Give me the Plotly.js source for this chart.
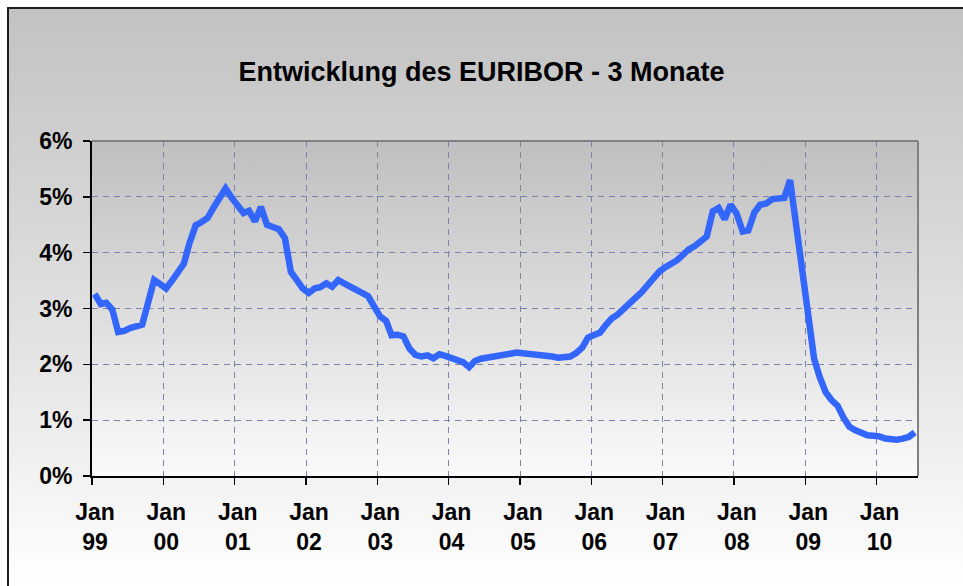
<!DOCTYPE html>
<html>
<head>
<meta charset="utf-8">
<script src="https://cdn.plot.ly/plotly-3.0.1.min.js"></script>
<style>
  html, body { margin: 0; padding: 0; background: #ffffff; overflow: hidden; }
  #frame { position: absolute; left: 7px; top: 7px; width: 1000px; height: 640px;
           border-left: 2px solid #1e1e1e; border-top: 2px solid #1e1e1e;
           background: linear-gradient(to bottom, #c2c2c2 0px, #e2e2e2 330px, #ffffff 580px); }
  #pbg { position: absolute; left: 92px; top: 141px; width: 826px; height: 335px;
         background: linear-gradient(to bottom, #bfbfbf, #fafafa); }
  #chart { position: absolute; left: 0; top: 0; width: 963px; height: 586px; }
</style>
</head>
<body>
<div id="frame"></div>
<div id="pbg"></div>
<div id="chart"></div>
<script>
// Monthly 3-month EURIBOR (%) from Jan 1999 to Jul 2010
const startYear = 1999;
const rate1999 = [3.26, 3.08, 3.10, 2.98, 2.58, 2.60, 2.65, 2.69, 2.71, 3.10, 3.51, 3.44];
const rate2000 = [3.36, 3.50, 3.63, 3.80, 4.18, 4.49, 4.55, 4.62, 4.81, 4.99, 5.15, 4.99];
const rate2001 = [4.85, 4.71, 4.75, 4.56, 4.82, 4.50, 4.46, 4.42, 4.26, 3.66, 3.51, 3.36];
const rate2002 = [3.28, 3.36, 3.38, 3.45, 3.39, 3.51, 3.45, 3.40, 3.36, 3.28, 3.22, 3.02];
const rate2003 = [2.86, 2.78, 2.52, 2.53, 2.50, 2.28, 2.17, 2.14, 2.16, 2.11, 2.18, 2.15];
const rate2004 = [2.12, 2.08, 2.04, 1.95, 2.06, 2.10, 2.12, 2.14, 2.16, 2.17, 2.19, 2.21];
const rate2005 = [2.20, 2.19, 2.18, 2.18, 2.16, 2.14, 2.12, 2.13, 2.14, 2.20, 2.30, 2.48];
const rate2006 = [2.51, 2.57, 2.70, 2.82, 2.89, 2.98, 3.08, 3.19, 3.29, 3.42, 3.56, 3.66];
const rate2007 = [3.74, 3.80, 3.86, 3.96, 4.06, 4.12, 4.20, 4.29, 4.74, 4.80, 4.60, 4.86];
const rate2008 = [4.70, 4.38, 4.40, 4.72, 4.86, 4.88, 4.96, 4.97, 4.98, 5.30, 4.50, 3.65];
const rate2009 = [2.85, 2.10, 1.78, 1.50, 1.36, 1.26, 1.05, 0.88, 0.82, 0.77, 0.73, 0.72];
const rate2010 = [0.71, 0.67, 0.66, 0.65, 0.67, 0.70, 0.78];

const tickYears = ["99", "00", "01", "02", "03", "04", "05", "06", "07", "08", "09", "10"];
const tickDates = ["1999-01-01", "2000-01-01", "2001-01-01", "2002-01-01", "2003-01-01", "2004-01-01",
                   "2005-01-01", "2006-01-01", "2007-01-01", "2008-01-01", "2009-01-01", "2010-01-01"];
const yTicks = [0, 1, 2, 3, 4, 5, 6];
const yTickLabels = ["0%", "1%", "2%", "3%", "4%", "5%", "6%"];
const titleText = "Entwicklung des EURIBOR - 3 Monate";

const yearly = [rate1999, rate2000, rate2001, rate2002, rate2003, rate2004,
                rate2005, rate2006, rate2007, rate2008, rate2009, rate2010];
const xs = [], ys = [];
yearly.forEach((arr, yi) => {
  arr.forEach((v, mi) => {
    const mm = String(mi + 1).padStart(2, "0");
    xs.push((startYear + yi) + "-" + mm + "-15");
    ys.push(v);
  });
});

const fontFam = "Liberation Sans, Arial, Helvetica, sans-serif";
const gridCol = "#8282a8";

const trace = {
  type: "scatter", mode: "lines", x: xs, y: ys,
  line: { color: "#3366ff", width: 6.5, shape: "linear" },
  hoverinfo: "skip", showlegend: false
};

const layout = {
  width: 963, height: 586,
  margin: { l: 92, r: 45, t: 141, b: 110, pad: 0 },
  paper_bgcolor: "rgba(0,0,0,0)", plot_bgcolor: "rgba(0,0,0,0)",
  showlegend: false,
  title: {
    text: titleText, x: 0.5, xref: "container", xanchor: "center",
    y: 1 - 72 / 586, yref: "container", yanchor: "middle",
    font: { family: fontFam, size: 27, color: "#000000", weight: "bold" }
  },
  xaxis: {
    type: "date", range: ["1999-01-01", "2010-08-01"],
    tickmode: "array", tickvals: tickDates,
    ticktext: tickYears.map(y => "Jan<br>" + y),
    tickfont: { family: fontFam, size: 23, color: "#000000", weight: "bold" },
    ticks: "outside", ticklen: 7, tickwidth: 1.5, tickcolor: "#000000",
    ticklabelshift: 3, ticklabelstandoff: 7,
    showline: true, linecolor: "#000000", linewidth: 2,
    showgrid: true, gridcolor: gridCol, gridwidth: 1, griddash: "6px,5px",
    zeroline: false, fixedrange: true
  },
  yaxis: {
    range: [0, 6], tickmode: "array", tickvals: yTicks, ticktext: yTickLabels,
    tickfont: { family: fontFam, size: 23, color: "#000000", weight: "bold" },
    ticks: "outside", ticklen: 7, tickwidth: 1.5, tickcolor: "#000000",
    ticklabelstandoff: 6,
    showline: true, linecolor: "#000000", linewidth: 2,
    showgrid: true, gridcolor: gridCol, gridwidth: 1, griddash: "6px,5px",
    zeroline: false, fixedrange: true
  },
  shapes: [
    { type: "line", xref: "paper", yref: "paper", x0: 0, x1: 1, y0: 1, y1: 1,
      line: { color: "#808080", width: 2 }, layer: "above" },
    { type: "line", xref: "paper", yref: "paper", x0: 1, x1: 1, y0: 0, y1: 1,
      line: { color: "#808080", width: 2 }, layer: "above" }
  ]
};

Plotly.newPlot("chart", [trace], layout, { staticPlot: true, displayModeBar: false });
</script>
</body>
</html>
